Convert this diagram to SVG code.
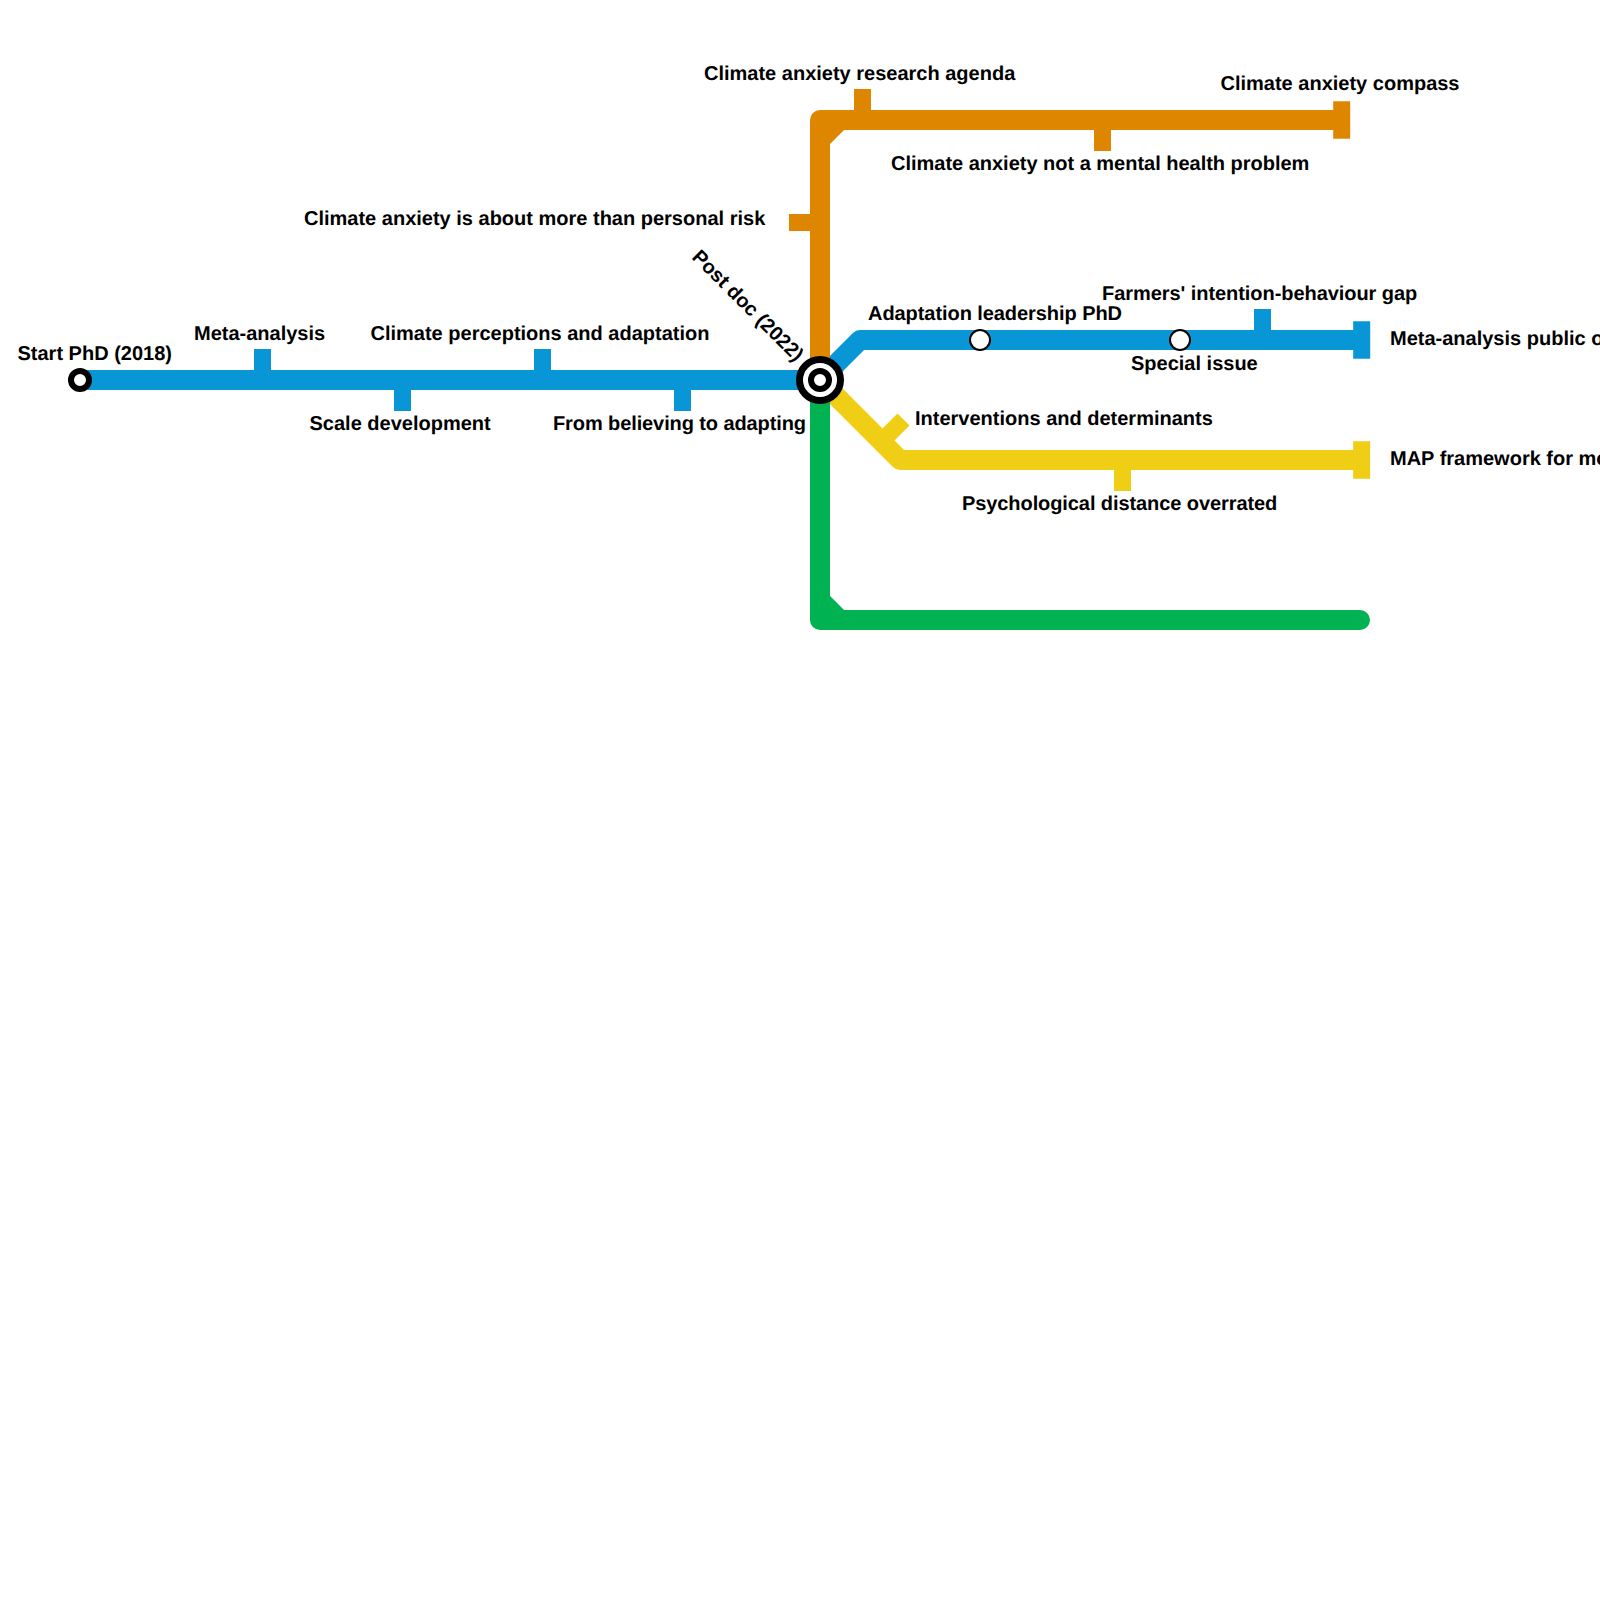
<svg xmlns="http://www.w3.org/2000/svg" width="1600" height="1600" viewBox="0 0 1600 1600">
<style>
.ln{fill:none;stroke-width:20;stroke-linejoin:round}
.cap{stroke-linecap:round}
.t{fill:none;stroke-width:17}
.b{stroke:#0896d7}.o{stroke:#df8600}.y{stroke:#f0ce15}.g{stroke:#00b251}
text{font-family:"Liberation Sans",Arial,sans-serif;font-size:20px;font-weight:700;fill:#000;text-rendering:geometricPrecision}
.st{fill:#fff;stroke:#000;stroke-width:2}
</style>
<rect width="1600" height="1600" fill="#fff"/>
<g id="connectors">
<path class="ln b" d="M80 380H820"/>
<path class="ln b cap" d="M835 365L860 340H1355"/>
<path class="ln o" d="M820 380V120H1342M820 140L840 120"/>
<path class="ln y cap" d="M835 395L900 460H1355"/>
<path class="ln g" d="M820 380V620H1360M820 600L840 620"/>
<path class="ln g cap" d="M1360 620h.01"/>
</g>
<g id="tick-meta-analysis"><path class="t b" d="M262.500 349V375"/><text x="194" y="340">Meta-analysis</text></g>
<g id="tick-scale"><path class="t b" d="M402.500 411V385"/><text x="309.500" y="430">Scale development</text></g>
<g id="tick-perceptions"><path class="t b" d="M542.500 349V375"/><text x="370.500" y="340">Climate perceptions and adaptation</text></g>
<g id="tick-believing"><path class="t b" d="M682.500 411V385"/><text x="553" y="430" textLength="253">From believing to adapting</text></g>
<g id="tick-personal-risk"><path class="t o" d="M789 222.500H815"/><text x="304" y="225">Climate anxiety is about more than personal risk</text></g>
<g id="tick-agenda"><path class="t o" d="M862.500 89V115"/><text x="704" y="80">Climate anxiety research agenda</text></g>
<g id="tick-not-mental"><path class="t o" d="M1102.500 151V125"/><text x="891" y="170" textLength="418.400">Climate anxiety not a mental health problem</text></g>
<g id="end-compass"><path class="t o" d="M1341.700 101.250V138.750"/><text x="1220.500" y="90">Climate anxiety compass</text></g>
<g id="tick-farmers"><path class="t b" d="M1262.500 309V335"/><text x="1102" y="300" textLength="315.300">Farmers' intention-behaviour gap</text></g>
<g id="end-meta-public"><path class="t b" d="M1361.700 321.250V358.750"/><text x="1390" y="345">Meta-analysis public o</text></g>
<g id="tick-interventions"><path class="t y" d="M903.500 419.500L880 443"/><text x="915" y="425">Interventions and determinants</text></g>
<g id="tick-distance"><path class="t y" d="M1122.500 491V465"/><text x="962" y="510" textLength="315.300">Psychological distance overrated</text></g>
<g id="end-map"><path class="t y" d="M1361.700 441.250V478.750"/><text x="1390" y="465">MAP framework for mo</text></g>
<g id="start"><circle cx="80" cy="380" r="9" fill="#fff" stroke="#000" stroke-width="6"/><text x="17.500" y="360">Start PhD (2018)</text></g>
<g id="post-doc"><circle cx="820" cy="380" r="20.500" fill="#fff" stroke="#000" stroke-width="7"/><circle cx="820" cy="380" r="9" fill="#fff" stroke="#000" stroke-width="6"/><text transform="translate(691 258) rotate(45)">Post doc (2022)</text></g>
<g id="adaptation-phd"><circle class="st" cx="980" cy="340" r="10"/><text x="868" y="320" textLength="254">Adaptation leadership PhD</text></g>
<g id="special-issue"><circle class="st" cx="1180" cy="340" r="10"/><text x="1131" y="370">Special issue</text></g>
</svg>
